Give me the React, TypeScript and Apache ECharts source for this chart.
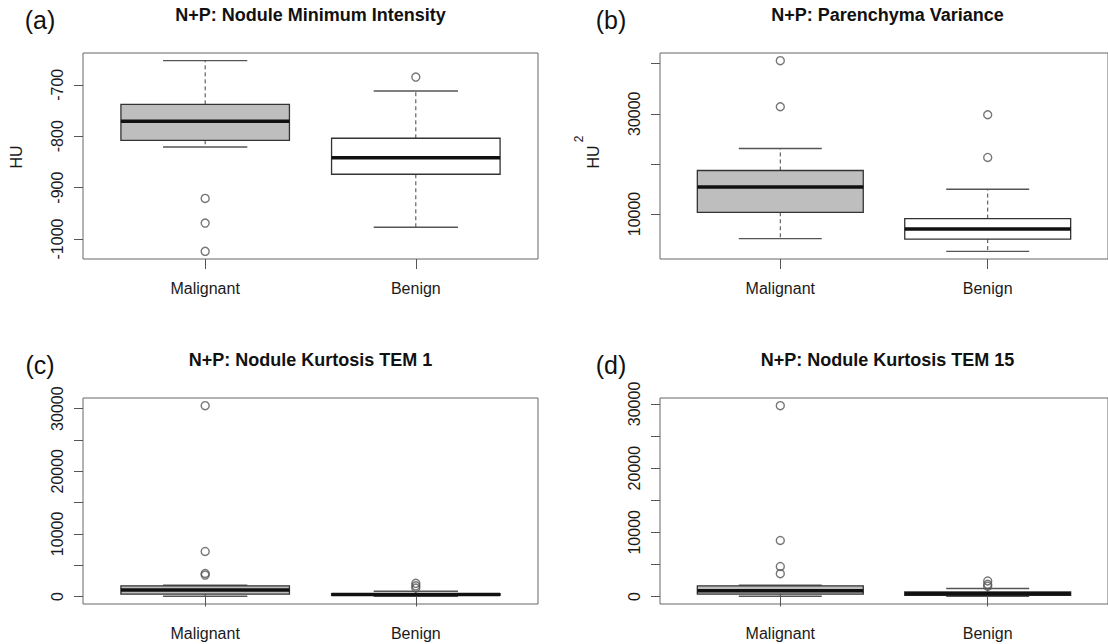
import React, { useEffect, useRef } from "react";
import * as echarts from "echarts";

const FONT = '"Liberation Sans", Arial, Helvetica, sans-serif';

const categories = ["Malignant", "Benign"];

// Each box: [lowerWhisker, Q1, median, Q3, upperWhisker]
const minIntensityBoxes = [
  [-821, -808, -771, -738, -653],
  [-977, -874, -842, -804, -712],
];
const minIntensityOutliers = [
  [1, -921],
  [1, -969],
  [1, -1024],
  [2, -685],
];

const parenchymaBoxes = [
  [5080, 10340, 15400, 18680, 23080],
  [2540, 5000, 7000, 9080, 14940],
];
const parenchymaOutliers = [
  [1, 40600],
  [1, 31400],
  [2, 29800],
  [2, 21280],
];

const kurtosis1Boxes = [
  [30, 380, 1020, 1710, 1800],
  [20, 200, 300, 450, 830],
];
const kurtosis1Outliers = [
  [1, 30480],
  [1, 7190],
  [1, 3680],
  [1, 3420],
  [2, 2100],
  [2, 1700],
  [2, 1350],
];

const kurtosis15Boxes = [
  [30, 370, 890, 1670, 1750],
  [20, 160, 420, 700, 1250],
];
const kurtosis15Outliers = [
  [1, 29740],
  [1, 8730],
  [1, 4680],
  [1, 3560],
  [2, 2420],
  [2, 1900],
  [2, 1600],
];

const minIntensityTicks = [-1000, -900, -800, -700];
const minIntensityLabels = [-1000, -900, -800, -700];
const parenchymaTicks = [10000, 20000, 30000, 40000];
const parenchymaLabels = [10000, 30000];
const kurtosisTicks = [0, 5000, 10000, 15000, 20000, 25000, 30000];
const kurtosisLabels = [0, 10000, 20000, 30000];

const boxFills = ["#BEBEBE", "#FFFFFF"];

const panels = [
  {
    tag: "(a)",
    title: "N+P: Nodule Minimum Intensity",
    yName: "HU",
    sup: "",
    boxes: minIntensityBoxes,
    outliers: minIntensityOutliers,
    ticks: minIntensityTicks,
    labels: minIntensityLabels,
    left: 83,
    top: 53,
  },
  {
    tag: "(b)",
    title: "N+P: Parenchyma Variance",
    yName: "HU",
    sup: "2",
    boxes: parenchymaBoxes,
    outliers: parenchymaOutliers,
    ticks: parenchymaTicks,
    labels: parenchymaLabels,
    left: 660,
    top: 53,
  },
  {
    tag: "(c)",
    title: "N+P: Nodule Kurtosis TEM 1",
    yName: "",
    sup: "",
    boxes: kurtosis1Boxes,
    outliers: kurtosis1Outliers,
    ticks: kurtosisTicks,
    labels: kurtosisLabels,
    left: 83,
    top: 398,
  },
  {
    tag: "(d)",
    title: "N+P: Nodule Kurtosis TEM 15",
    yName: "",
    sup: "",
    boxes: kurtosis15Boxes,
    outliers: kurtosis15Outliers,
    ticks: kurtosisTicks,
    labels: kurtosisLabels,
    left: 660,
    top: 398,
  },
];

const GRID_W = 455;
const GRID_H = 206;
const BOX_LINE = "#333";
const WHISK = "#444";
const CAP = "#555";
const TICK = "#555";

function rExtent(p: any): [number, number] {
  const vals: number[] = [];
  p.boxes.forEach((b: number[]) => vals.push(...b));
  p.outliers.forEach((o: number[]) => vals.push(o[1]));
  const lo = Math.min(...vals);
  const hi = Math.max(...vals);
  const pad = (hi - lo) * 0.04;
  return [lo - pad, hi + pad];
}

function buildOption() {
  const grid: any[] = [];
  const xAxis: any[] = [];
  const yAxis: any[] = [];
  const series: any[] = [];
  const graphic: any[] = [];

  panels.forEach((p, i) => {
    grid.push({
      left: p.left,
      top: p.top,
      width: GRID_W,
      height: GRID_H,
      show: true,
      borderColor: "#666",
      borderWidth: 1,
      backgroundColor: "transparent",
      containLabel: false,
    });
    xAxis.push({
      type: "value",
      gridIndex: i,
      min: 0.5 - 0.04 * 2,
      max: 2.5 + 0.04 * 2,
      axisLine: { show: false },
      splitLine: { show: false },
      axisTick: {
        show: true,
        inside: false,
        length: 10,
        customValues: [1, 2],
        lineStyle: { color: TICK, width: 1 },
      },
      axisLabel: {
        show: true,
        customValues: [1, 2],
        formatter: (v: number) => categories[Math.round(v) - 1] || "",
        margin: 21,
        fontSize: 16,
        fontFamily: FONT,
        color: "#1a1a1a",
      },
    });
    const [ymin, ymax] = rExtent(p);
    yAxis.push({
      type: "value",
      gridIndex: i,
      min: ymin,
      max: ymax,
      axisLine: { show: false },
      splitLine: { show: false },
      axisTick: {
        show: true,
        inside: false,
        length: 9,
        customValues: p.ticks,
        lineStyle: { color: TICK, width: 1 },
      },
      axisLabel: {
        show: true,
        customValues: p.labels,
        rotate: 90,
        margin: 18,
        fontSize: 16,
        fontFamily: FONT,
        color: "#1a1a1a",
        formatter: (v: number) => String(v),
      },
    });

    series.push({
      type: "custom",
      xAxisIndex: i,
      yAxisIndex: i,
      data: p.boxes.map((b, k) => [k + 1, ...b]),
      encode: { x: 0, y: [1, 2, 3, 4, 5] },
      z: 2,
      renderItem: (params: any, api: any) => {
        const x = api.value(0);
        const lw = api.value(1);
        const q1 = api.value(2);
        const med = api.value(3);
        const q3 = api.value(4);
        const uw = api.value(5);
        const half = api.size([0.4, 0])[0];
        const cap = api.size([0.2, 0])[0];
        const cx = api.coord([x, med])[0];
        const yLw = api.coord([x, lw])[1];
        const yQ1 = api.coord([x, q1])[1];
        const yMed = api.coord([x, med])[1];
        const yQ3 = api.coord([x, q3])[1];
        const yUw = api.coord([x, uw])[1];
        const fill = boxFills[params.dataIndex % boxFills.length];
        return {
          type: "group",
          children: [
            {
              type: "line",
              shape: { x1: cx, y1: yQ3, x2: cx, y2: yUw },
              style: { stroke: WHISK, lineWidth: 1, lineDash: [4, 3] },
            },
            {
              type: "line",
              shape: { x1: cx, y1: yQ1, x2: cx, y2: yLw },
              style: { stroke: WHISK, lineWidth: 1, lineDash: [4, 3] },
            },
            {
              type: "line",
              shape: { x1: cx - cap, y1: yUw, x2: cx + cap, y2: yUw },
              style: { stroke: CAP, lineWidth: 1.4 },
            },
            {
              type: "line",
              shape: { x1: cx - cap, y1: yLw, x2: cx + cap, y2: yLw },
              style: { stroke: CAP, lineWidth: 1.4 },
            },
            {
              type: "rect",
              shape: { x: cx - half, y: yQ3, width: half * 2, height: yQ1 - yQ3 },
              style: { fill, stroke: BOX_LINE, lineWidth: 1.3 },
            },
            {
              type: "line",
              shape: { x1: cx - half, y1: yMed, x2: cx + half, y2: yMed },
              style: { stroke: "#111", lineWidth: 3.5 },
            },
          ],
        };
      },
    });

    series.push({
      type: "scatter",
      xAxisIndex: i,
      yAxisIndex: i,
      data: p.outliers,
      symbol: "circle",
      symbolSize: 8,
      z: 3,
      itemStyle: { color: "rgba(0,0,0,0)", borderColor: "#555", borderWidth: 1.4 },
    });

    const cxTitle = p.left + GRID_W / 2;
    graphic.push({
      type: "text",
      x: cxTitle,
      y: p.top - 38,
      style: {
        text: p.title,
        fontSize: 18,
        fontWeight: "bold",
        fontFamily: FONT,
        fill: "#111",
        align: "center",
        verticalAlign: "middle",
      },
    });
    graphic.push({
      type: "text",
      x: p.left - (p.left < 300 ? 43 : 49),
      y: p.top - 33,
      style: {
        text: p.tag,
        fontSize: 25,
        fontFamily: FONT,
        fill: "#111",
        align: "center",
        verticalAlign: "middle",
      },
    });
    if (p.yName) {
      graphic.push({
        type: "text",
        x: p.left - 67,
        y: p.top + GRID_H / 2 + 1,
        rotation: Math.PI / 2,
        style: {
          text: p.yName,
          fontSize: 16,
          fontFamily: FONT,
          fill: "#1a1a1a",
          align: "center",
          verticalAlign: "middle",
        },
      });
    }
    if (p.sup) {
      graphic.push({
        type: "text",
        x: p.left - 81,
        y: p.top + GRID_H / 2 - 17,
        rotation: Math.PI / 2,
        style: {
          text: p.sup,
          fontSize: 12,
          fontFamily: FONT,
          fill: "#1a1a1a",
          align: "center",
          verticalAlign: "middle",
        },
      });
    }
  });

  return {
    animation: false,
    backgroundColor: "#ffffff",
    grid,
    xAxis,
    yAxis,
    series,
    graphic,
  };
}

export default function App() {
  const ref = useRef<HTMLDivElement>(null);
  useEffect(() => {
    if (!ref.current) return;
    const chart = echarts.init(ref.current, null, { renderer: "svg" });
    chart.setOption(buildOption() as any);
    return () => chart.dispose();
  }, []);
  return (
    <div
      ref={ref}
      style={{ position: "absolute", left: 0, top: 0, width: 1108, height: 644 }}
    />
  );
}
